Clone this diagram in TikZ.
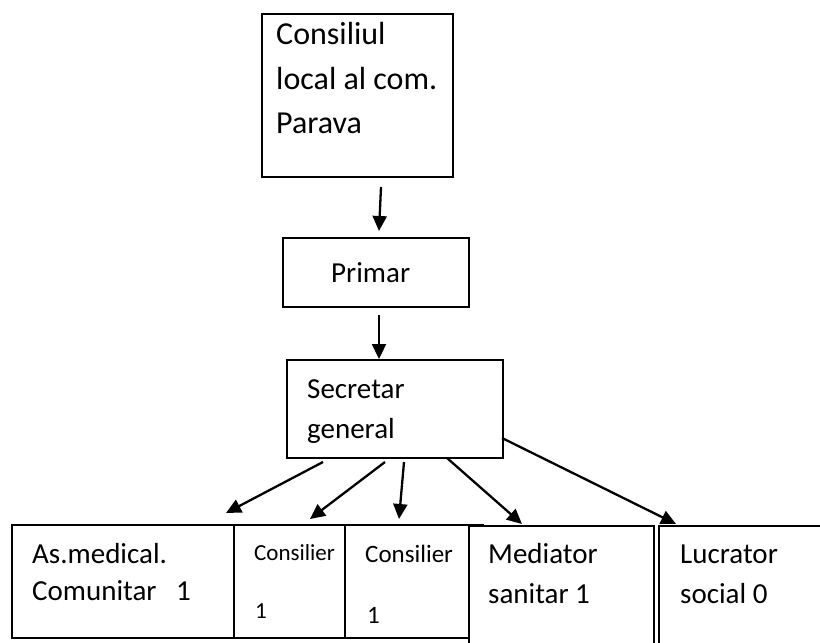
\documentclass[tikz,border=0pt]{standalone}
\usepackage{fontspec}
\setmainfont{Carlito}
\usetikzlibrary{arrows.meta}
\begin{document}
\begin{tikzpicture}[x=1bp,y=-1bp,
  box/.style={draw=black, line width=1.6bp, fill=white, rectangle, inner sep=0pt, anchor=north west},
  lbl/.style={anchor=base west, inner sep=0pt, font=\fontsize{29bp}{35bp}\selectfont},
  lblbig/.style={anchor=base west, inner sep=0pt, font=\fontsize{32bp}{38bp}\selectfont},
  lblsmall/.style={anchor=base west, inner sep=0pt, font=\fontsize{23bp}{28bp}\selectfont},
  lblmid/.style={anchor=base west, inner sep=0pt, font=\fontsize{25bp}{30bp}\selectfont},
  arr/.style={line width=2.3bp, -{Triangle[length=15bp,width=14bp]}}]
\useasboundingbox (0,0) rectangle (820,643);
\clip (0,0) rectangle (820,643);
% boxes
\node[box, minimum width=191bp, minimum height=163bp] (cons) at (261,13) {};
\node[box, minimum width=186bp, minimum height=69bp] (prim) at (282,237) {};
\node[box, minimum width=216bp, minimum height=98bp] (sec) at (286,359) {};
\node[box, minimum width=222bp, minimum height=113bp] (b1) at (11,524) {};
\node[box, minimum width=111bp, minimum height=113bp] (b2) at (233,524) {};
\node[box, minimum width=138bp, minimum height=113bp] (b3) at (344,524) {};
\node[box, minimum width=185bp, minimum height=130bp] (b4) at (468,525) {};
\node[box, minimum width=180bp, minimum height=130bp] (b5) at (658,525) {};
% texts
\node[lblbig] (t1a) at (276,45) {Consiliul};
\node[lblbig] (t1b) at (276,90) {local al com.};
\node[lblbig] (t1c) at (276,134) {Parava};
\node[lbl] (t2) at (331,282) {Primar};
\node[lbl] (t3a) at (307,398) {Secretar};
\node[lbl] (t3b) at (307,438) {general};
\node[lbl] (t4a) at (32,563) {As.medical.};
\node[lbl] (t4b) at (32,600) {Comunitar\ \ \ 1};
\node[lblsmall] (t5a) at (254,560) {Consilier};
\node[lblsmall] (t5b) at (255,618) {1};
\node[lblmid] (t6a) at (365,562) {Consilier};
\node[lblmid] (t6b) at (367,623) {1};
\node[lbl] (t7a) at (488,563) {Mediator};
\node[lbl] (t7b) at (488,603) {sanitar 1};
\node[lbl] (t8a) at (680,563) {Lucrator};
\node[lbl] (t8b) at (680,603) {social 0};
% arrow end points
\coordinate (p0s) at (381,187); \coordinate (p0e) at (379,231);
\coordinate (p1s) at (379,315); \coordinate (p1e) at (379,359);
\coordinate (p2s) at (323,462); \coordinate (p2e) at (226,513);
\coordinate (p3s) at (385,462); \coordinate (p3e) at (310,519);
\coordinate (p4s) at (404,462); \coordinate (p4e) at (399,519);
\coordinate (p5s) at (447,458); \coordinate (p5e) at (522,524);
\coordinate (p6s) at (502,438); \coordinate (p6e) at (676,524);
\draw[arr] (p0s) -- (p0e);
\draw[arr] (p1s) -- (p1e);
\draw[arr] (p2s) -- (p2e);
\draw[arr] (p3s) -- (p3e);
\draw[arr] (p4s) -- (p4e);
\draw[arr] (p5s) -- (p5e);
\draw[arr] (p6s) -- (p6e);
\end{tikzpicture}
\end{document}
